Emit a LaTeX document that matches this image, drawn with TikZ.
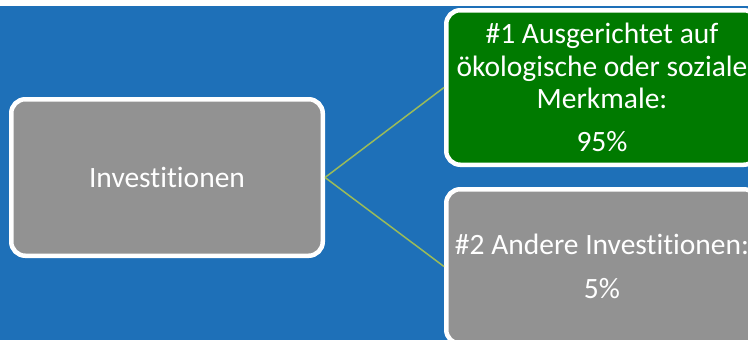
\documentclass[tikz,border=0pt]{standalone}
\usepackage{fontspec}
\setmainfont{Carlito}[RawFeature=-liga]
\definecolor{bgblue}{RGB}{30,112,184}
\definecolor{boxgray}{RGB}{146,146,146}
\definecolor{boxgreen}{RGB}{0,122,0}
\definecolor{connc}{RGB}{155,187,89}
\begin{document}
\begin{tikzpicture}[x=1pt,y=-1pt,
  box/.style={draw=white, line width=4.5pt, rounded corners=14pt, text=white,
    inner sep=0pt, align=center, font=\fontsize{29.5}{32.5}\selectfont},
  conn/.style={draw=connc, line width=1.5pt}]
\useasboundingbox (0,0) rectangle (748,340);
\fill[white] (0,0) rectangle (748,340);
\fill[bgblue] (0,6) rectangle (748,340);
\node[box, fill=boxgray, minimum width=311.5pt, minimum height=156.5pt] (inv) at (167,177.5) {Investitionen};
\node[box, fill=boxgreen, minimum width=311.5pt, minimum height=154.5pt] (art1) at (602,87.5)
  {\#1 Ausgerichtet auf\\ökologische oder soziale\\Merkmale:\\[10.5pt]95\%};
\node[box, fill=boxgray, minimum width=311.5pt, minimum height=154.5pt] (art2) at (602,266.5)
  {\#2 Andere Investitionen:\\[12pt]5\%};
\draw[conn] (inv.east) -- (art1.west);
\draw[conn] (inv.east) -- (art2.west);
\end{tikzpicture}
\end{document}
